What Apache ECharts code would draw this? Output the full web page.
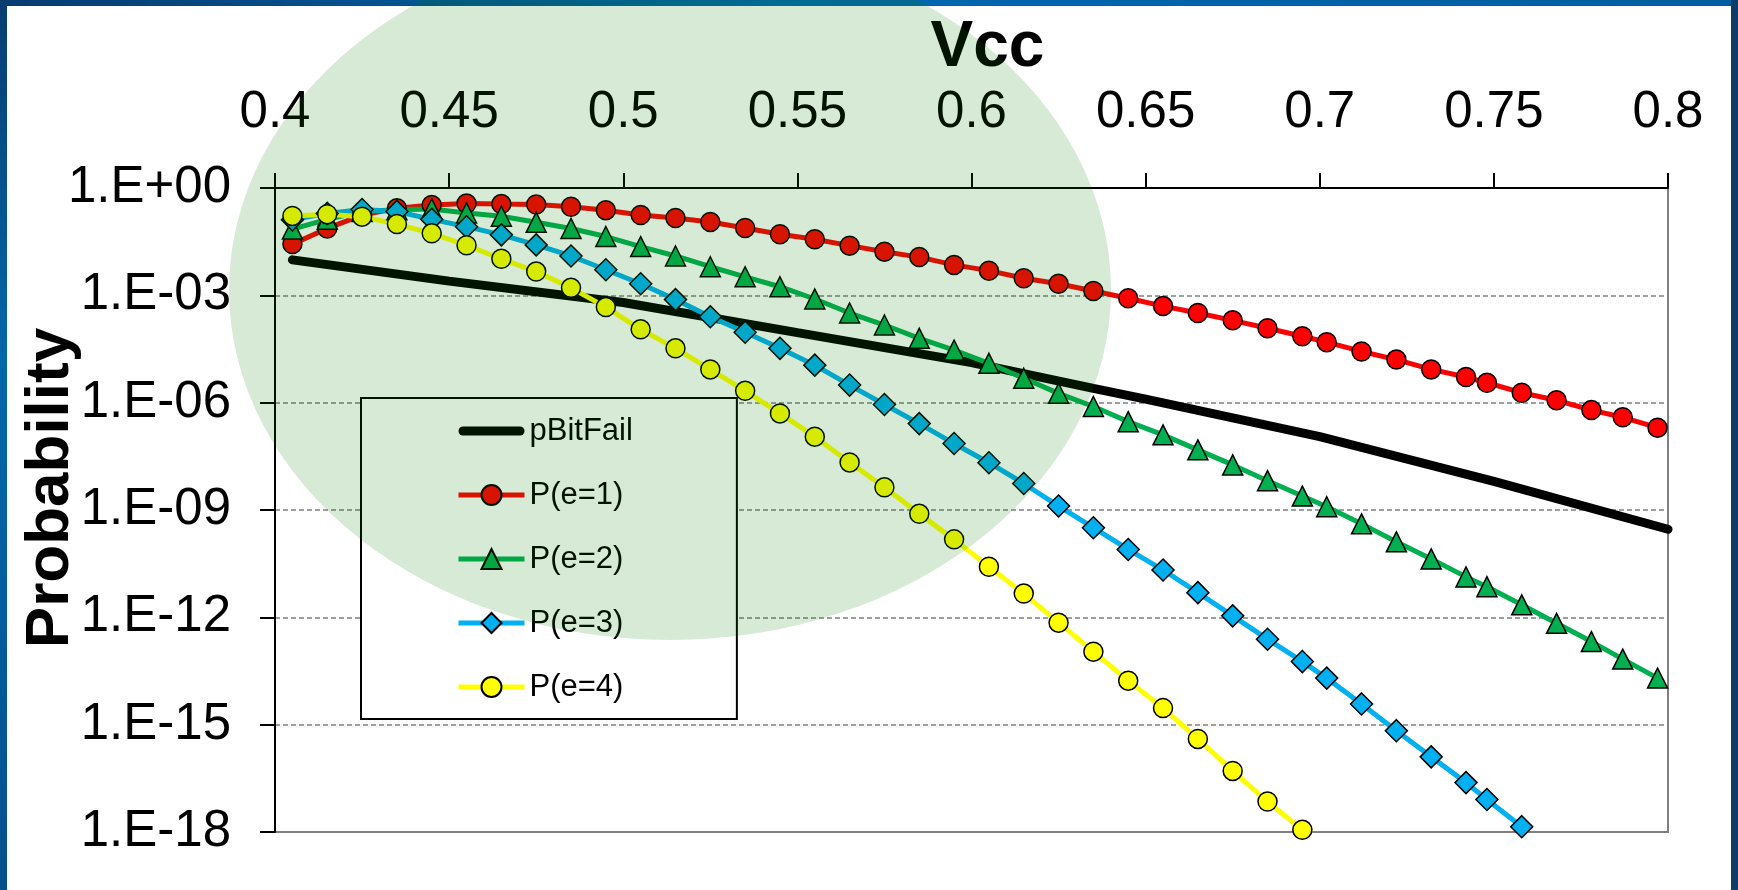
<!DOCTYPE html>
<html lang="en">
<head>
<meta charset="UTF-8">
<title>Probability vs Vcc</title>
<script src="https://cdn.jsdelivr.net/npm/echarts@6/dist/echarts.min.js"></script>
<style type="text/css">
    html, body {
        margin: 0;
        padding: 0;
        background-color: #ffffff;
    }
    #chart {
        width: 1738px;
        height: 890px;
    }
</style>
</head>
<body>
<div id="chart"></div>
<script>
// x values (Vcc) shared by the marker series
var vcc = [0.405, 0.415, 0.425, 0.435, 0.445, 0.455, 0.465, 0.475, 0.485, 0.495,
           0.505, 0.515, 0.525, 0.535, 0.545, 0.555, 0.565, 0.575, 0.585, 0.595,
           0.605, 0.615, 0.625, 0.635, 0.645, 0.655, 0.665, 0.675, 0.685, 0.695,
           0.702, 0.712, 0.722, 0.732, 0.742, 0.748, 0.758, 0.768, 0.778, 0.787, 0.797];

// pBitFail is a plain line, no markers
var vccBitFail = [0.405, 0.45, 0.5, 0.55, 0.6, 0.635, 0.65, 0.7, 0.75, 0.8];
var pBitFail = [9.8e-3, 2.5e-3, 6.3e-4, 9.1e-5, 1.32e-5, 2.5e-6, 1.26e-6, 1.12e-7, 6.3e-9, 2.9e-10];

var pE1 = [2.7e-2, 7.4e-2, 1.74e-1, 2.7e-1, 3.35e-1, 3.7e-1, 3.55e-1, 3.45e-1, 3.0e-1, 2.4e-1,
           1.76e-1, 1.45e-1, 1.12e-1, 7.6e-2, 5.1e-2, 3.7e-2, 2.45e-2, 1.66e-2, 1.17e-2, 7.1e-3,
           4.9e-3, 3.0e-3, 2.1e-3, 1.32e-3, 8.3e-4, 5.0e-4, 3.2e-4, 2.0e-4, 1.2e-4, 7.2e-5,
           4.9e-5, 2.7e-5, 1.6e-5, 8.5e-6, 5.2e-6, 3.6e-6, 1.9e-6, 1.17e-6, 6.2e-7, 3.9e-7, 2.0e-7];

var pE2 = [7.1e-2, 1.33e-1, 2.2e-1, 2.45e-1, 2.6e-1, 2.0e-1, 1.62e-1, 1.1e-1, 7.4e-2, 4.4e-2,
           2.3e-2, 1.26e-2, 6.3e-3, 3.3e-3, 1.74e-3, 7.9e-4, 3.2e-4, 1.48e-4, 6.3e-5, 2.95e-5,
           1.26e-5, 4.8e-6, 1.82e-6, 7.8e-7, 2.95e-7, 1.26e-7, 4.8e-8, 1.82e-8, 6.6e-9, 2.45e-9,
           1.23e-9, 4.1e-10, 1.29e-10, 4.3e-11, 1.35e-11, 7.2e-12, 2.24e-12, 6.8e-13, 2.1e-13, 6.8e-14, 2.0e-14];

var pE3 = [1.29e-1, 1.95e-1, 2.51e-1, 2.2e-1, 1.33e-1, 8.3e-2, 4.9e-2, 2.57e-2, 1.26e-2, 5.2e-3,
           2.1e-3, 7.6e-4, 2.51e-4, 9.3e-5, 3.3e-5, 1.12e-5, 3.1e-6, 8.9e-7, 2.6e-7, 7.2e-8,
           2.1e-8, 5.5e-9, 1.29e-9, 3.2e-10, 7.9e-11, 2.1e-11, 4.9e-12, 1.1e-12, 2.45e-13, 5.8e-14,
           2.0e-14, 3.8e-15, 6.8e-16, 1.26e-16, 2.4e-17, 8.1e-18, 1.41e-18];

var pE4 = [1.66e-1, 1.86e-1, 1.58e-1, 9.8e-2, 5.4e-2, 2.51e-2, 1.05e-2, 4.6e-3, 1.62e-3, 4.7e-4,
           1.12e-4, 3.3e-5, 8.5e-6, 2.14e-6, 5.0e-7, 1.12e-7, 2.14e-8, 4.3e-9, 7.8e-10, 1.51e-10,
           2.6e-11, 4.6e-12, 7.1e-13, 1.1e-13, 1.7e-14, 2.9e-15, 4.0e-16, 5.1e-17, 7.1e-18, 1.15e-18];

var seriesNames = ['pBitFail', 'P(e=1)', 'P(e=2)', 'P(e=3)', 'P(e=4)'];
var vccTicks = [0.4, 0.8, 0.05];          // min, max, step
var probTicks = [1e-18, 1];               // min, max (one label every 3 decades)

function pairs(xs, ys) {
    var out = [];
    for (var i = 0; i < ys.length; i++) {
        out.push([xs[i], ys[i]]);
    }
    return out;
}

function expLabel(v) {
    var e = Math.round(Math.log10(v));
    var s = String(Math.abs(e));
    if (s.length < 2) s = '0' + s;
    return '1.E' + (e < 0 ? '-' : '+') + s;
}

function markerSeries(name, data, color, symbol, size) {
    return {
        name: name,
        type: 'line',
        data: data,
        symbol: symbol,
        symbolSize: size,
        showAllSymbol: true,
        lineStyle: {color: color, width: 5},
        itemStyle: {color: color, borderColor: '#000000', borderWidth: 1.5}
    };
}

var chart = echarts.init(document.getElementById('chart'));

var option = {
    animation: false,
    backgroundColor: '#ffffff',
    textStyle: {fontFamily: 'Liberation Sans, Arial, sans-serif'},
    grid: {
        left: 275,
        right: 70,
        top: 188,
        bottom: 58,
        show: true,
        borderColor: '#808080',
        borderWidth: 2,
        backgroundColor: 'transparent',
        containLabel: false,
        outerBoundsMode: 'none'
    },
    legend: {
        orient: 'vertical',
        left: 361,
        top: 398,
        padding: [17, 104, 16, 95],
        itemWidth: 66,
        itemHeight: 25,
        itemGap: 32,
        backgroundColor: '#ffffff',
        borderColor: '#000000',
        borderWidth: 2,
        borderRadius: 0,
        align: 'left',
        textStyle: {fontSize: 31, color: '#000000', lineHeight: 32, fontFamily: 'Liberation Sans'},
        data: [
            {name: seriesNames[0],
             icon: 'path://M4.5 0 L61.5 0 A4.5 4.5 0 0 1 61.5 9 L4.5 9 A4.5 4.5 0 0 1 4.5 0 Z'},
            {name: seriesNames[1], lineStyle: {width: 5}},
            {name: seriesNames[2], lineStyle: {width: 5}},
            {name: seriesNames[3], lineStyle: {width: 5}},
            {name: seriesNames[4], lineStyle: {width: 5}}
        ]
    },
    xAxis: {
        type: 'value',
        position: 'top',
        min: vccTicks[0],
        max: vccTicks[1],
        interval: vccTicks[2],
        name: 'Vcc',
        nameLocation: 'middle',
        nameGap: 108,
        nameMoveOverlap: false,
        nameTextStyle: {fontSize: 64, fontWeight: 'bold', color: '#000000', padding: [0, 0, 0, 32]},
        axisLine: {show: true, onZero: false, lineStyle: {color: '#000000', width: 2}},
        axisTick: {show: true, inside: false, length: 15, lineStyle: {color: '#000000', width: 2}},
        axisLabel: {fontSize: 51, color: '#000000', margin: 50, showMinLabel: true, showMaxLabel: true},
        splitLine: {show: false}
    },
    yAxis: {
        type: 'log',
        logBase: 1000,
        min: probTicks[0],
        max: probTicks[1],
        name: 'Probability',
        nameLocation: 'middle',
        nameGap: 193,
        nameMoveOverlap: false,
        nameTextStyle: {fontSize: 62, fontWeight: 'bold', color: '#000000', padding: [0, 0, 0, 44]},
        axisLine: {show: true, onZero: false, lineStyle: {color: '#000000', width: 2}},
        axisTick: {show: true, inside: false, length: 15, lineStyle: {color: '#000000', width: 2}},
        axisLabel: {fontSize: 51, color: '#000000', margin: 44, formatter: expLabel,
                    showMinLabel: true, showMaxLabel: true},
        splitLine: {show: true, lineStyle: {color: '#808080', width: 1.5, type: [5, 3]}},
        minorTick: {show: false},
        minorSplitLine: {show: false}
    },
    series: [
        {
            name: seriesNames[0],
            type: 'line',
            data: pairs(vccBitFail, pBitFail),
            symbol: 'none',
            lineStyle: {color: '#000000', width: 9, cap: 'round'},
            itemStyle: {color: '#000000'}
        },
        markerSeries(seriesNames[1], pairs(vcc, pE1), '#ff0000', 'circle', 19),
        markerSeries(seriesNames[2], pairs(vcc, pE2), '#00b050', 'triangle', 20),
        markerSeries(seriesNames[3], pairs(vcc, pE3), '#00b0f0', 'diamond', 22),
        markerSeries(seriesNames[4], pairs(vcc, pE4), '#ffff00', 'circle', 19)
    ],
    graphic: [
        // translucent green oval laid over the chart
        {
            type: 'circle',
            silent: true,
            z: 150,
            x: 670,
            y: 290,
            scaleX: 1.26,
            scaleY: 1,
            shape: {cx: 0, cy: 0, r: 350},
            style: {fill: 'rgba(0,125,0,0.16)'}
        },
        // blue slide frame
        {
            type: 'rect', silent: true, z: 140,
            shape: {x: 0, y: 0, width: 1738, height: 6},
            style: {fill: new echarts.graphic.LinearGradient(0, 0, 1, 0, [
                {offset: 0, color: '#073c70'},
                {offset: 0.45, color: '#0068b0'},
                {offset: 1, color: '#005e9e'}
            ])}
        },
        {
            type: 'rect', silent: true, z: 140,
            shape: {x: 0, y: 0, width: 7, height: 890},
            style: {fill: new echarts.graphic.LinearGradient(0, 0, 0, 1, [
                {offset: 0, color: '#073c70'},
                {offset: 0.4, color: '#0566a8'},
                {offset: 1, color: '#04508e'}
            ])}
        },
        {
            type: 'rect', silent: true, z: 140,
            shape: {x: 1731, y: 0, width: 7, height: 890},
            style: {fill: '#0b3c6a'}
        }
    ]
};

chart.setOption(option);
</script>
</body>
</html>
